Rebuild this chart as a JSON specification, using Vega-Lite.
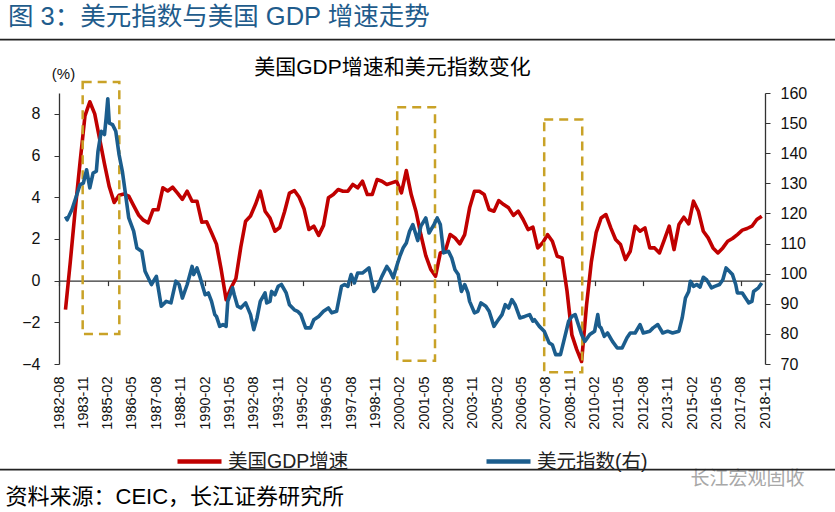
{
  "$schema": "https://vega.github.io/schema/vega-lite/v6.json",
  "width": 706,
  "height": 271,
  "autosize": {"type": "none"},
  "padding": {"left": 59, "top": 93, "right": 70, "bottom": 148},
  "background": "white",
  "config": {
    "view": {"stroke": null},
    "axis": {"grid": false, "labelOverlap": false, "labelFont": "Liberation Sans", "titleFont": "Liberation Sans, Noto Sans CJK SC", "labelColor": "#111", "titleColor": "#111", "titleFontWeight": "normal", "domainColor": "#333", "tickColor": "#333"}
  },
  "title": {"text": "图 3：美元指数与美国 GDP 增速走势", "anchor": "start", "frame": "group", "dx": -51, "offset": 8, "fontSize": 25.5, "font": "Liberation Sans, Noto Sans CJK SC", "fontWeight": "normal", "color": "#1F5C8C"},
  "datasets": {
    "gdp": [
      {"date": "1982-12", "gdp": -1.39},
      {"date": "1983-03", "gdp": 0.9}, {"date": "1983-06", "gdp": 3.4}, {"date": "1983-09", "gdp": 5.7}, {"date": "1983-12", "gdp": 7.9},
      {"date": "1984-03", "gdp": 8.58}, {"date": "1984-06", "gdp": 8.0}, {"date": "1984-09", "gdp": 6.8}, {"date": "1984-12", "gdp": 5.6},
      {"date": "1985-03", "gdp": 4.5}, {"date": "1985-06", "gdp": 3.75}, {"date": "1985-09", "gdp": 4.1}, {"date": "1985-12", "gdp": 4.15},
      {"date": "1986-03", "gdp": 4.05}, {"date": "1986-06", "gdp": 3.6}, {"date": "1986-09", "gdp": 3.15}, {"date": "1986-12", "gdp": 2.9},
      {"date": "1987-03", "gdp": 2.77}, {"date": "1987-06", "gdp": 3.4}, {"date": "1987-09", "gdp": 3.4}, {"date": "1987-12", "gdp": 4.45},
      {"date": "1988-03", "gdp": 4.3}, {"date": "1988-06", "gdp": 4.48}, {"date": "1988-09", "gdp": 4.2}, {"date": "1988-12", "gdp": 3.9},
      {"date": "1989-03", "gdp": 4.29}, {"date": "1989-06", "gdp": 3.81}, {"date": "1989-09", "gdp": 3.81}, {"date": "1989-12", "gdp": 2.8},
      {"date": "1990-03", "gdp": 2.82}, {"date": "1990-06", "gdp": 2.3}, {"date": "1990-09", "gdp": 1.75}, {"date": "1990-12", "gdp": 0.5},
      {"date": "1991-03", "gdp": -0.91}, {"date": "1991-06", "gdp": -0.35}, {"date": "1991-09", "gdp": 0.1}, {"date": "1991-12", "gdp": 1.6},
      {"date": "1992-03", "gdp": 2.85}, {"date": "1992-06", "gdp": 3.1}, {"date": "1992-09", "gdp": 3.65}, {"date": "1992-12", "gdp": 4.29},
      {"date": "1993-03", "gdp": 3.33}, {"date": "1993-06", "gdp": 3.0}, {"date": "1993-09", "gdp": 2.37}, {"date": "1993-12", "gdp": 2.55},
      {"date": "1994-03", "gdp": 3.3}, {"date": "1994-06", "gdp": 4.2}, {"date": "1994-09", "gdp": 4.32}, {"date": "1994-12", "gdp": 4.0},
      {"date": "1995-03", "gdp": 3.45}, {"date": "1995-06", "gdp": 2.45}, {"date": "1995-09", "gdp": 2.61}, {"date": "1995-12", "gdp": 2.17},
      {"date": "1996-03", "gdp": 2.65}, {"date": "1996-06", "gdp": 3.97}, {"date": "1996-09", "gdp": 4.13}, {"date": "1996-12", "gdp": 4.37},
      {"date": "1997-03", "gdp": 4.29}, {"date": "1997-06", "gdp": 4.29}, {"date": "1997-09", "gdp": 4.61}, {"date": "1997-12", "gdp": 4.45},
      {"date": "1998-03", "gdp": 4.77}, {"date": "1998-06", "gdp": 4.13}, {"date": "1998-09", "gdp": 4.13}, {"date": "1998-12", "gdp": 4.85},
      {"date": "1999-03", "gdp": 4.77}, {"date": "1999-06", "gdp": 4.61}, {"date": "1999-09", "gdp": 4.69}, {"date": "1999-12", "gdp": 4.77},
      {"date": "2000-03", "gdp": 4.21}, {"date": "2000-06", "gdp": 5.28}, {"date": "2000-09", "gdp": 4.13}, {"date": "2000-12", "gdp": 3.3},
      {"date": "2001-03", "gdp": 2.2}, {"date": "2001-06", "gdp": 1.2}, {"date": "2001-09", "gdp": 0.55}, {"date": "2001-12", "gdp": 0.21},
      {"date": "2002-03", "gdp": 1.33}, {"date": "2002-06", "gdp": 1.41}, {"date": "2002-09", "gdp": 2.21}, {"date": "2002-12", "gdp": 2.05},
      {"date": "2003-03", "gdp": 1.76}, {"date": "2003-06", "gdp": 2.21}, {"date": "2003-09", "gdp": 3.49}, {"date": "2003-12", "gdp": 4.29},
      {"date": "2004-03", "gdp": 4.29}, {"date": "2004-06", "gdp": 4.13}, {"date": "2004-09", "gdp": 3.41}, {"date": "2004-12", "gdp": 3.33},
      {"date": "2005-03", "gdp": 3.84}, {"date": "2005-06", "gdp": 3.65}, {"date": "2005-09", "gdp": 3.49}, {"date": "2005-12", "gdp": 3.13},
      {"date": "2006-03", "gdp": 3.33}, {"date": "2006-06", "gdp": 2.93}, {"date": "2006-09", "gdp": 2.45}, {"date": "2006-12", "gdp": 2.56},
      {"date": "2007-03", "gdp": 1.57}, {"date": "2007-06", "gdp": 1.81}, {"date": "2007-09", "gdp": 2.21}, {"date": "2007-12", "gdp": 1.89},
      {"date": "2008-03", "gdp": 1.17}, {"date": "2008-06", "gdp": 1.09}, {"date": "2008-09", "gdp": -0.5}, {"date": "2008-12", "gdp": -2.6},
      {"date": "2009-03", "gdp": -3.3}, {"date": "2009-06", "gdp": -3.88}, {"date": "2009-09", "gdp": -1.2}, {"date": "2009-12", "gdp": 0.9},
      {"date": "2010-03", "gdp": 2.3}, {"date": "2010-06", "gdp": 3.0}, {"date": "2010-09", "gdp": 3.17}, {"date": "2010-12", "gdp": 2.53},
      {"date": "2011-03", "gdp": 1.97}, {"date": "2011-06", "gdp": 1.73}, {"date": "2011-09", "gdp": 1.01}, {"date": "2011-12", "gdp": 1.41},
      {"date": "2012-03", "gdp": 2.61}, {"date": "2012-06", "gdp": 2.37}, {"date": "2012-09", "gdp": 2.53}, {"date": "2012-12", "gdp": 1.57},
      {"date": "2013-03", "gdp": 1.57}, {"date": "2013-06", "gdp": 1.33}, {"date": "2013-09", "gdp": 1.97}, {"date": "2013-12", "gdp": 2.61},
      {"date": "2014-03", "gdp": 1.49}, {"date": "2014-06", "gdp": 2.69}, {"date": "2014-09", "gdp": 3.04}, {"date": "2014-12", "gdp": 2.72},
      {"date": "2015-03", "gdp": 3.81}, {"date": "2015-06", "gdp": 3.33}, {"date": "2015-09", "gdp": 2.37}, {"date": "2015-12", "gdp": 2.05},
      {"date": "2016-03", "gdp": 1.57}, {"date": "2016-06", "gdp": 1.33}, {"date": "2016-09", "gdp": 1.57}, {"date": "2016-12", "gdp": 1.89},
      {"date": "2017-03", "gdp": 2.02}, {"date": "2017-06", "gdp": 2.21}, {"date": "2017-09", "gdp": 2.42}, {"date": "2017-12", "gdp": 2.5},
      {"date": "2018-03", "gdp": 2.61}, {"date": "2018-06", "gdp": 2.93}, {"date": "2018-09", "gdp": 3.09}
    ],
    "dxy": [
      {"date": "1982-12", "usd": 119.0}, {"date": "1983-01", "usd": 117.9}, {"date": "1983-04", "usd": 121.3}, {"date": "1983-07", "usd": 126.2},
      {"date": "1983-09", "usd": 129.6}, {"date": "1983-11", "usd": 130.1}, {"date": "1984-01", "usd": 134.5}, {"date": "1984-03", "usd": 128.5},
      {"date": "1984-05", "usd": 133.4}, {"date": "1984-07", "usd": 134.0}, {"date": "1984-08", "usd": 140.6}, {"date": "1984-10", "usd": 147.3},
      {"date": "1984-12", "usd": 146.2}, {"date": "1985-01", "usd": 151.7}, {"date": "1985-02", "usd": 158.1}, {"date": "1985-03", "usd": 150.0},
      {"date": "1985-05", "usd": 149.5}, {"date": "1985-07", "usd": 147.3}, {"date": "1985-09", "usd": 139.5}, {"date": "1985-11", "usd": 134.0},
      {"date": "1986-01", "usd": 126.2}, {"date": "1986-03", "usd": 118.5}, {"date": "1986-06", "usd": 114.1}, {"date": "1986-08", "usd": 108.5},
      {"date": "1986-11", "usd": 107.4}, {"date": "1987-01", "usd": 100.8}, {"date": "1987-04", "usd": 97.5}, {"date": "1987-05", "usd": 96.4},
      {"date": "1987-08", "usd": 99.1}, {"date": "1987-11", "usd": 89.2}, {"date": "1988-02", "usd": 90.8}, {"date": "1988-05", "usd": 90.3},
      {"date": "1988-08", "usd": 97.5}, {"date": "1988-10", "usd": 96.4}, {"date": "1988-12", "usd": 91.9}, {"date": "1989-03", "usd": 96.4},
      {"date": "1989-06", "usd": 102.4}, {"date": "1989-07", "usd": 99.7}, {"date": "1989-09", "usd": 101.9}, {"date": "1989-11", "usd": 98.6},
      {"date": "1990-02", "usd": 93.0}, {"date": "1990-04", "usd": 93.6}, {"date": "1990-06", "usd": 90.8}, {"date": "1990-08", "usd": 86.4},
      {"date": "1990-09", "usd": 85.8}, {"date": "1990-11", "usd": 82.5}, {"date": "1991-01", "usd": 83.1}, {"date": "1991-03", "usd": 82.5},
      {"date": "1991-04", "usd": 90.8}, {"date": "1991-07", "usd": 95.3}, {"date": "1991-08", "usd": 93.0}, {"date": "1991-10", "usd": 89.2},
      {"date": "1991-12", "usd": 88.6}, {"date": "1992-03", "usd": 90.3}, {"date": "1992-06", "usd": 86.4}, {"date": "1992-08", "usd": 81.4},
      {"date": "1992-10", "usd": 85.3}, {"date": "1992-12", "usd": 90.8}, {"date": "1993-03", "usd": 93.6}, {"date": "1993-04", "usd": 90.3},
      {"date": "1993-06", "usd": 90.8}, {"date": "1993-07", "usd": 94.1}, {"date": "1993-09", "usd": 93.0}, {"date": "1993-11", "usd": 95.8},
      {"date": "1994-01", "usd": 96.4}, {"date": "1994-04", "usd": 93.6}, {"date": "1994-06", "usd": 89.7}, {"date": "1994-09", "usd": 88.0},
      {"date": "1994-11", "usd": 87.5}, {"date": "1995-01", "usd": 86.4}, {"date": "1995-04", "usd": 82.0}, {"date": "1995-07", "usd": 82.0},
      {"date": "1995-09", "usd": 84.7}, {"date": "1995-12", "usd": 85.8}, {"date": "1996-03", "usd": 87.5}, {"date": "1996-06", "usd": 88.6},
      {"date": "1996-08", "usd": 87.0}, {"date": "1996-11", "usd": 87.5}, {"date": "1997-02", "usd": 95.8}, {"date": "1997-04", "usd": 96.4},
      {"date": "1997-06", "usd": 95.8}, {"date": "1997-08", "usd": 99.7}, {"date": "1997-10", "usd": 96.9}, {"date": "1997-12", "usd": 100.2},
      {"date": "1998-03", "usd": 100.2}, {"date": "1998-07", "usd": 101.9}, {"date": "1998-10", "usd": 94.1}, {"date": "1998-12", "usd": 95.3},
      {"date": "1999-03", "usd": 99.1}, {"date": "1999-06", "usd": 102.4}, {"date": "1999-08", "usd": 100.8}, {"date": "1999-10", "usd": 98.6},
      {"date": "1999-12", "usd": 102.4}, {"date": "2000-02", "usd": 105.8}, {"date": "2000-04", "usd": 108.5}, {"date": "2000-06", "usd": 110.2},
      {"date": "2000-08", "usd": 114.1}, {"date": "2000-10", "usd": 116.3}, {"date": "2001-01", "usd": 111.0}, {"date": "2001-03", "usd": 115.8},
      {"date": "2001-06", "usd": 118.5}, {"date": "2001-08", "usd": 113.5}, {"date": "2001-11", "usd": 116.3}, {"date": "2002-01", "usd": 118.5},
      {"date": "2002-03", "usd": 116.3}, {"date": "2002-05", "usd": 106.9}, {"date": "2002-08", "usd": 107.4}, {"date": "2002-10", "usd": 105.2},
      {"date": "2002-12", "usd": 101.3}, {"date": "2003-02", "usd": 99.7}, {"date": "2003-04", "usd": 94.1}, {"date": "2003-06", "usd": 96.4},
      {"date": "2003-08", "usd": 93.6}, {"date": "2003-09", "usd": 90.8}, {"date": "2003-12", "usd": 87.0}, {"date": "2004-02", "usd": 87.5},
      {"date": "2004-04", "usd": 90.3}, {"date": "2004-07", "usd": 89.2}, {"date": "2004-09", "usd": 87.5}, {"date": "2004-12", "usd": 82.5},
      {"date": "2005-02", "usd": 84.2}, {"date": "2005-05", "usd": 86.4}, {"date": "2005-07", "usd": 89.7}, {"date": "2005-09", "usd": 88.6},
      {"date": "2005-11", "usd": 91.4}, {"date": "2006-01", "usd": 89.7}, {"date": "2006-04", "usd": 85.3}, {"date": "2006-07", "usd": 85.8},
      {"date": "2006-10", "usd": 86.4}, {"date": "2006-12", "usd": 84.2}, {"date": "2007-01", "usd": 84.7}, {"date": "2007-04", "usd": 82.5},
      {"date": "2007-07", "usd": 80.9}, {"date": "2007-10", "usd": 77.0}, {"date": "2007-12", "usd": 76.4}, {"date": "2008-02", "usd": 73.1},
      {"date": "2008-05", "usd": 73.1}, {"date": "2008-07", "usd": 77.5}, {"date": "2008-10", "usd": 84.2}, {"date": "2008-12", "usd": 85.8},
      {"date": "2009-02", "usd": 86.4}, {"date": "2009-04", "usd": 83.1}, {"date": "2009-06", "usd": 79.8}, {"date": "2009-08", "usd": 77.5},
      {"date": "2009-11", "usd": 79.8}, {"date": "2010-02", "usd": 80.9}, {"date": "2010-04", "usd": 86.4}, {"date": "2010-05", "usd": 82.5},
      {"date": "2010-06", "usd": 82.0}, {"date": "2010-08", "usd": 79.2}, {"date": "2010-10", "usd": 80.3}, {"date": "2011-01", "usd": 77.5},
      {"date": "2011-04", "usd": 75.3}, {"date": "2011-07", "usd": 75.3}, {"date": "2011-10", "usd": 78.7}, {"date": "2011-12", "usd": 80.3},
      {"date": "2012-03", "usd": 80.3}, {"date": "2012-06", "usd": 83.1}, {"date": "2012-08", "usd": 80.3}, {"date": "2012-12", "usd": 80.9},
      {"date": "2013-02", "usd": 82.0}, {"date": "2013-05", "usd": 83.1}, {"date": "2013-08", "usd": 80.3}, {"date": "2013-11", "usd": 80.9},
      {"date": "2014-02", "usd": 80.3}, {"date": "2014-06", "usd": 80.9}, {"date": "2014-08", "usd": 85.3}, {"date": "2014-10", "usd": 91.9},
      {"date": "2014-12", "usd": 94.1}, {"date": "2015-01", "usd": 97.5}, {"date": "2015-03", "usd": 95.8}, {"date": "2015-05", "usd": 96.4},
      {"date": "2015-07", "usd": 95.5}, {"date": "2015-09", "usd": 98.8}, {"date": "2015-11", "usd": 98.0}, {"date": "2016-02", "usd": 95.3},
      {"date": "2016-04", "usd": 95.8}, {"date": "2016-07", "usd": 96.4}, {"date": "2016-09", "usd": 98.0}, {"date": "2016-11", "usd": 101.9},
      {"date": "2017-01", "usd": 100.8}, {"date": "2017-03", "usd": 99.7}, {"date": "2017-05", "usd": 96.4}, {"date": "2017-06", "usd": 93.6},
      {"date": "2017-09", "usd": 93.6}, {"date": "2017-11", "usd": 91.9}, {"date": "2018-01", "usd": 90.3}, {"date": "2018-03", "usd": 90.8},
      {"date": "2018-04", "usd": 94.1}, {"date": "2018-07", "usd": 95.3}, {"date": "2018-09", "usd": 96.9}
    ],
    "boxes": [
      {"start": "1983-10-19", "end": "1985-09-05", "top": 9.53, "bottom": -2.56},
      {"start": "1999-12-13", "end": "2001-11-21", "top": 8.32, "bottom": -3.85},
      {"start": "2007-07-01", "end": "2009-06-13", "top": 7.73, "bottom": -4.4}
    ],
    "one": [{}]
  },
  "layer": [
    {
      "layer": [
        {
          "data": {"name": "gdp"},
          "mark": {"type": "line", "strokeWidth": 3.6, "strokeJoin": "round"},
          "encoding": {
            "x": {
              "field": "date", "type": "temporal",
              "scale": {"domain": [{"year": 1982, "month": 8, "date": 1}, {"year": 2018, "month": 11, "date": 1}], "nice": false},
              "axis": {
                "orient": "bottom", "offset": -83.4,
                "values": [{"year": 1982, "month": 8, "date": 1}, {"year": 1983, "month": 11, "date": 1}, {"year": 1985, "month": 2, "date": 1}, {"year": 1986, "month": 5, "date": 1}, {"year": 1987, "month": 8, "date": 1}, {"year": 1988, "month": 11, "date": 1}, {"year": 1990, "month": 2, "date": 1}, {"year": 1991, "month": 5, "date": 1}, {"year": 1992, "month": 8, "date": 1}, {"year": 1993, "month": 11, "date": 1}, {"year": 1995, "month": 2, "date": 1}, {"year": 1996, "month": 5, "date": 1}, {"year": 1997, "month": 8, "date": 1}, {"year": 1998, "month": 11, "date": 1}, {"year": 2000, "month": 2, "date": 1}, {"year": 2001, "month": 5, "date": 1}, {"year": 2002, "month": 8, "date": 1}, {"year": 2003, "month": 11, "date": 1}, {"year": 2005, "month": 2, "date": 1}, {"year": 2006, "month": 5, "date": 1}, {"year": 2007, "month": 8, "date": 1}, {"year": 2008, "month": 11, "date": 1}, {"year": 2010, "month": 2, "date": 1}, {"year": 2011, "month": 5, "date": 1}, {"year": 2012, "month": 8, "date": 1}, {"year": 2013, "month": 11, "date": 1}, {"year": 2015, "month": 2, "date": 1}, {"year": 2016, "month": 5, "date": 1}, {"year": 2017, "month": 8, "date": 1}, {"year": 2018, "month": 11, "date": 1}],
                "labels": false, "ticks": true, "tickSize": 5, "tickWidth": 1.2, "domain": true, "domainWidth": 1.3, "labelOverlap": false,
                "title": "资料来源：CEIC，长江证券研究所", "titleX": -54, "titleY": 216, "titleAlign": "left", "titleBaseline": "middle", "titleAnchor": "start", "titleFontSize": 22, "titleColor": "#000"
              }
            },
            "y": {
              "field": "gdp", "type": "quantitative",
              "scale": {"domain": [-4, 9], "nice": false, "zero": false},
              "axis": {
                "orient": "left", "values": [-4, -2, 0, 2, 4, 6, 8], "tickSize": 5, "labelPadding": 14, "labelFontSize": 16, "domainWidth": 1.3, "labelOverlap": false,
                "title": "(%)", "titleAngle": 0, "titleX": 4, "titleY": -20, "titleAlign": "center", "titleBaseline": "middle", "titleFontSize": 15
              }
            },
            "color": {
              "datum": "美国GDP增速",
              "scale": {"domain": ["美国GDP增速", "美元指数(右)"], "range": ["#C00000", "#1B5D8D"]},
              "legend": {
                "orient": "none", "legendX": 116, "legendY": 344, "direction": "horizontal", "title": null,
                "symbolType": "stroke", "symbolSize": 1936, "symbolStrokeWidth": 4.5, "labelFontSize": 19.5,
                "labelFont": "Liberation Sans, Noto Sans CJK SC", "labelColor": "#222", "columnPadding": 128, "labelOffset": 4, "labelLimit": 300
              }
            }
          }
        },
        {
          "data": {"name": "one"},
          "mark": {"type": "rule", "color": "#222", "strokeWidth": 1.8},
          "encoding": {
            "x": {"datum": {"year": 1979, "month": 6, "date": 1}, "type": "temporal"},
            "x2": {"datum": {"year": 2022, "month": 9, "date": 1}},
            "y": {"datum": 11.56, "type": "quantitative"}
          }
        },
        {
          "data": {"name": "one"},
          "mark": {"type": "rule", "color": "#222", "strokeWidth": 1.8},
          "encoding": {
            "x": {"datum": {"year": 1979, "month": 6, "date": 1}, "type": "temporal"},
            "x2": {"datum": {"year": 2022, "month": 9, "date": 1}},
            "y": {"datum": -9.07, "type": "quantitative"}
          }
        },
        {
          "data": {"name": "boxes"},
          "mark": {"type": "rect", "fill": null, "stroke": "#C9A227", "strokeWidth": 2.5, "strokeDash": [9, 6]},
          "encoding": {
            "x": {"field": "start", "type": "temporal"},
            "x2": {"field": "end"},
            "y": {"field": "top", "type": "quantitative"},
            "y2": {"field": "bottom"}
          }
        }
      ]
    },
    {
      "data": {"name": "dxy"},
      "mark": {"type": "line", "strokeWidth": 3.6, "strokeJoin": "round"},
      "encoding": {
        "x": {
          "field": "date", "type": "temporal",
          "axis": {
            "orient": "bottom",
            "values": [{"year": 1982, "month": 8, "date": 1}, {"year": 1983, "month": 11, "date": 1}, {"year": 1985, "month": 2, "date": 1}, {"year": 1986, "month": 5, "date": 1}, {"year": 1987, "month": 8, "date": 1}, {"year": 1988, "month": 11, "date": 1}, {"year": 1990, "month": 2, "date": 1}, {"year": 1991, "month": 5, "date": 1}, {"year": 1992, "month": 8, "date": 1}, {"year": 1993, "month": 11, "date": 1}, {"year": 1995, "month": 2, "date": 1}, {"year": 1996, "month": 5, "date": 1}, {"year": 1997, "month": 8, "date": 1}, {"year": 1998, "month": 11, "date": 1}, {"year": 2000, "month": 2, "date": 1}, {"year": 2001, "month": 5, "date": 1}, {"year": 2002, "month": 8, "date": 1}, {"year": 2003, "month": 11, "date": 1}, {"year": 2005, "month": 2, "date": 1}, {"year": 2006, "month": 5, "date": 1}, {"year": 2007, "month": 8, "date": 1}, {"year": 2008, "month": 11, "date": 1}, {"year": 2010, "month": 2, "date": 1}, {"year": 2011, "month": 5, "date": 1}, {"year": 2012, "month": 8, "date": 1}, {"year": 2013, "month": 11, "date": 1}, {"year": 2015, "month": 2, "date": 1}, {"year": 2016, "month": 5, "date": 1}, {"year": 2017, "month": 8, "date": 1}, {"year": 2018, "month": 11, "date": 1}],
            "format": "%Y-%m", "labelAngle": 270, "labelAlign": "right", "labelBaseline": "middle", "labelPadding": 12, "labelFontSize": 14.5,
            "labelOverlap": false, "labelFlush": false, "labelBound": false, "labelSeparation": 0, "ticks": false, "domain": false,
            "title": "长江宏观固收", "titleX": 631, "titleY": 114, "titleAlign": "left", "titleBaseline": "middle", "titleAnchor": "start", "titleFontSize": 19, "titleColor": "#A8A8A8"
          }
        },
        "y": {
          "field": "usd", "type": "quantitative",
          "scale": {"domain": [70, 160], "nice": false, "zero": false},
          "axis": {
            "orient": "right", "values": [70, 80, 90, 100, 110, 120, 130, 140, 150, 160], "tickSize": 5, "labelPadding": 10, "labelFontSize": 16, "domainWidth": 1.3,
            "labelOverlap": false, "labelBound": false, "labelFlush": false,
            "title": "美国GDP增速和美元指数变化", "titleAngle": 0, "titleX": -373, "titleY": -26, "titleAlign": "center", "titleBaseline": "middle", "titleFontSize": 21, "titleColor": "#000"
          }
        },
        "color": {"datum": "美元指数(右)"}
      }
    }
  ],
  "resolve": {"scale": {"y": "independent"}, "axis": {"x": "independent"}}
}
